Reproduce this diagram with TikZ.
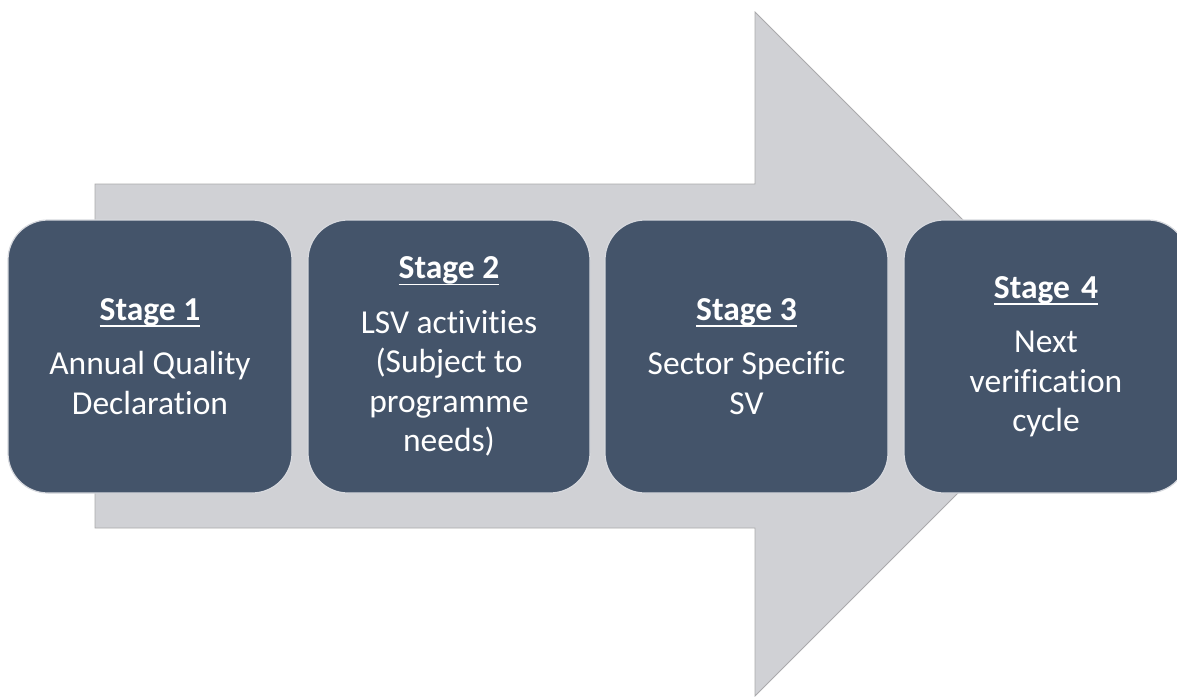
\documentclass[tikz,border=0pt]{standalone}
\usepackage{fontspec}
\setmainfont{Carlito}[Ligatures={NoCommon}]
\definecolor{boxfill}{RGB}{68,84,106}
\definecolor{arrowfill}{RGB}{208,209,213}
\definecolor{arrowline}{RGB}{170,170,172}
\definecolor{boxline}{RGB}{215,217,222}
\newcommand{\stageul}[1]{\setbox0\hbox{\bfseries #1}\rlap{\rule[-6.5pt]{\wd0}{1.6pt}}\box0}
\tikzset{
  stagebox/.style={draw=boxline, line width=1.2pt, fill=boxfill, rounded corners=40pt,
    minimum height=273pt, text=white, align=center, inner sep=0pt,
    font=\fontsize{33.5}{39.5}\selectfont},
  bigarrow/.style={fill=arrowfill, draw=arrowline, line width=0.8pt}
}
\begin{document}
\begin{tikzpicture}[x=1pt,y=-1pt]
\useasboundingbox (0,0) rectangle (1177,696);
\clip (0,0) rectangle (1177,696);
\fill[white] (0,0) rectangle (1177,696);
\draw[bigarrow] (95,184) -- (755,184) -- (755,12) -- (1097,354) -- (755,696) -- (755,528) -- (95,528) -- cycle;
\node[stagebox, minimum width=284pt] (s1) at (150,356.5) {\stageul{Stage 1}\\[15pt]Annual Quality\\Declaration};
\node[stagebox, minimum width=282pt] (s2) at (449,356.5) {\stageul{Stage 2}\\[15pt]LSV activities\\(Subject to\\programme\\needs)};
\node[stagebox, minimum width=283pt] (s3) at (746.5,356.5) {\stageul{Stage 3}\\[15pt]Sector Specific\\SV};
\node[stagebox, minimum width=284pt, text width=284pt] (s4) at (1046,356.5) {\stageul{Stage 4}\\[15pt]Next\\verification\\cycle};
\end{tikzpicture}
\end{document}
